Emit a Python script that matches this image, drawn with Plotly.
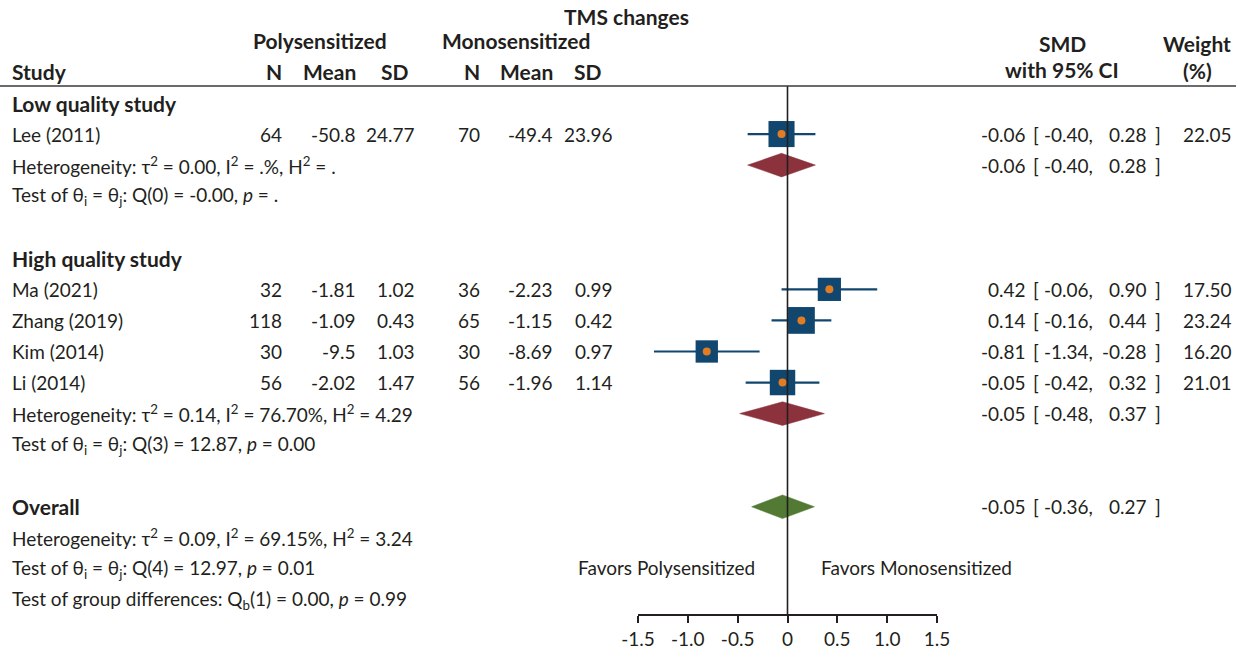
import plotly.graph_objects as go
import math

# ---- data -------------------------------------------------------------
studies = ["Lee (2011)", "Ma (2021)", "Zhang (2019)", "Kim (2014)", "Li (2014)"]
study_rows = [1, 6, 7, 8, 9]
n_poly = [64, 32, 118, 30, 56]
mean_poly = [-50.8, -1.81, -1.09, -9.5, -2.02]
sd_poly = [24.77, 1.02, 0.43, 1.03, 1.47]
n_mono = [70, 36, 65, 30, 56]
mean_mono = [-49.4, -2.23, -1.15, -8.69, -1.96]
sd_mono = [23.96, 0.99, 0.42, 0.97, 1.14]
smd = [-0.06, 0.42, 0.14, -0.81, -0.05]
ci_low = [-0.40, -0.06, -0.16, -1.34, -0.42]
ci_high = [0.28, 0.90, 0.44, -0.28, 0.32]
weight = [22.05, 17.50, 23.24, 16.20, 21.01]

# pooled estimates: low-quality subgroup, high-quality subgroup, overall
pooled_rows = [2, 10, 13]
pooled_smd = [-0.06, -0.05, -0.05]
pooled_low = [-0.40, -0.48, -0.36]
pooled_high = [0.28, 0.37, 0.27]
pooled_colors = ["#8c323c", "#8c323c", "#527a34"]

tick_vals = [-1.5, -1.0, -0.5, 0, 0.5, 1.0, 1.5]
tick_text = ["-1.5", "-1.0", "-0.5", "0", "0.5", "1.0", "1.5"]

# ---- layout helpers -----------------------------------------------------
W, H = 1244, 651
FONT = "Lato"
TXT = "#231f20"
FS = 19
FS_BOLD = 21
BLUE = "#11466f"
ORANGE = "#e27c22"

annotations = []


def txt(xpx, row, text, anchor="left", bold=False):
    size = FS
    if bold:
        text = "<b>" + text + "</b>"
        size = FS_BOLD
    annotations.append(dict(
        x=xpx / W, xref="paper", y=row, yref="y", text=text,
        xanchor=anchor, yanchor="middle", showarrow=False, borderpad=0,
        font=dict(family=FONT, size=size, color=TXT),
    ))


fig = go.Figure()

# confidence-interval whiskers
for i in range(len(studies)):
    fig.add_trace(go.Scatter(
        x=[ci_low[i], ci_high[i]], y=[study_rows[i], study_rows[i]],
        mode="lines", line=dict(color=BLUE, width=2.2),
        hoverinfo="skip", showlegend=False,
    ))

# weighted squares
fig.add_trace(go.Scatter(
    x=smd, y=study_rows, mode="markers",
    marker=dict(symbol="square", color=BLUE, opacity=1,
                size=[5.55 * math.sqrt(w) for w in weight], line=dict(width=0)),
    showlegend=False, hoverinfo="skip",
))
# point estimates
fig.add_trace(go.Scatter(
    x=smd, y=study_rows, mode="markers",
    marker=dict(symbol="circle", color=ORANGE, size=8, opacity=1, line=dict(width=0)),
    showlegend=False, hoverinfo="skip",
))

# pooled diamonds
half_h = 0.38
for r, es, lo, hi, col in zip(pooled_rows, pooled_smd, pooled_low, pooled_high, pooled_colors):
    fig.add_trace(go.Scatter(
        x=[lo, es, hi, es, lo], y=[r, r - half_h, r, r + half_h, r],
        mode="lines", fill="toself", fillcolor=col,
        line=dict(color=col, width=0.5), showlegend=False, hoverinfo="skip",
    ))

# ---- table text ---------------------------------------------------------
X_STUDY = 11
X_N1, X_M1, X_S1 = 283, 357, 416
X_N2, X_M2, X_S2 = 481, 554, 614
X_ES, X_LB, X_LO, X_HI, X_RB, X_W = 1027, 1032, 1094, 1148, 1154, 1233

txt(626, -2.80, "TMS changes", "center", True)
txt(320, -2.0, "Polysensitized", "center", True)
txt(516, -2.0, "Monosensitized", "center", True)
txt(1062, -1.93, "SMD", "center", True)
txt(1197, -1.93, "Weight", "center", True)
txt(X_STUDY, -1.03, "Study", "left", True)
for xp, lab in [(X_N1, "N"), (X_M1, "Mean"), (410, "SD"),
                (X_N2, "N"), (X_M2, "Mean"), (603, "SD")]:
    txt(xp, -1.03, lab, "right", True)
txt(1062, -1.09, "with 95% CI", "center", True)
txt(1197, -1.06, "(%)", "center", True)

txt(X_STUDY, 0, "Low quality study", "left", True)
txt(X_STUDY, 5, "High quality study", "left", True)
txt(X_STUDY, 13, "Overall", "left", True)


def ci_text(row, es, lo, hi, w=None):
    txt(X_ES, row, f"{es:.2f}", "right")
    txt(X_LB, row, "[", "left")
    txt(X_LO, row, f"{lo:.2f},", "right")
    txt(X_HI, row, f"{hi:.2f}", "right")
    txt(X_RB, row, "]", "left")
    if w is not None:
        txt(X_W, row, f"{w:.2f}", "right")


for i, name in enumerate(studies):
    r = study_rows[i]
    txt(X_STUDY, r, name, "left")
    txt(X_N1, r, str(n_poly[i]), "right")
    txt(X_M1, r, f"{mean_poly[i]:g}", "right")
    txt(X_S1, r, f"{sd_poly[i]:.2f}", "right")
    txt(X_N2, r, str(n_mono[i]), "right")
    txt(X_M2, r, f"{mean_mono[i]:g}", "right")
    txt(X_S2, r, f"{sd_mono[i]:.2f}", "right")
    ci_text(r, smd[i], ci_low[i], ci_high[i], weight[i])

for r, es, lo, hi in zip(pooled_rows, pooled_smd, pooled_low, pooled_high):
    ci_text(r, es, lo, hi)

TEST = "Test of θ<sub>i</sub> = θ<sub>j</sub>: "
txt(X_STUDY, 2, "Heterogeneity: τ<sup>2</sup> = 0.00, I<sup>2</sup> = .%, H<sup>2</sup> = .")
txt(X_STUDY, 3, TEST + "Q(0) = -0.00, <i>p</i> = .")
txt(X_STUDY, 10, "Heterogeneity: τ<sup>2</sup> = 0.14, I<sup>2</sup> = 76.70%, H<sup>2</sup> = 4.29")
txt(X_STUDY, 11, TEST + "Q(3) = 12.87, <i>p</i> = 0.00")
txt(X_STUDY, 14, "Heterogeneity: τ<sup>2</sup> = 0.09, I<sup>2</sup> = 69.15%, H<sup>2</sup> = 3.24")
txt(X_STUDY, 15, TEST + "Q(4) = 12.97, <i>p</i> = 0.01")
txt(X_STUDY, 16, "Test of group differences: Q<sub>b</sub>(1) = 0.00, <i>p</i> = 0.99")

txt(666, 14.94, "Favors Polysensitized", "center")
txt(916, 14.94, "Favors Monosensitized", "center")

# ---- axes / frame -------------------------------------------------------
ROW0_PX, ROW_STEP = 103, 31.06
PLOT_BOTTOM_PX = 614
y_top = -ROW0_PX / ROW_STEP
y_bottom = (PLOT_BOTTOM_PX - ROW0_PX) / ROW_STEP
header_line_y = (86 - ROW0_PX) / ROW_STEP

shapes = [
    dict(type="line", xref="x", yref="y", x0=0, x1=0, y0=header_line_y, y1=y_bottom,
         line=dict(color="#231f20", width=1.6)),
    dict(type="line", xref="paper", yref="y", x0=0, x1=1236 / W,
         y0=header_line_y, y1=header_line_y, line=dict(color="#3a3a3a", width=1.4)),
]

fig.update_layout(
    width=W, height=H,
    margin=dict(l=0, r=0, t=0, b=H - PLOT_BOTTOM_PX, pad=0, autoexpand=False),
    paper_bgcolor="white", plot_bgcolor="white",
    annotations=annotations, shapes=shapes,
    xaxis=dict(domain=[638 / W, 937 / W], range=[-1.5, 1.5],
               showgrid=False, zeroline=False, showline=True,
               linecolor="#231f20", linewidth=1.6,
               ticks="outside", ticklen=7, tickwidth=1.6, tickcolor="#231f20",
               tickvals=tick_vals, ticktext=tick_text,
               tickfont=dict(family=FONT, size=FS, color=TXT)),
    yaxis=dict(range=[y_bottom, y_top], visible=False, showgrid=False, zeroline=False),
    showlegend=False,
)

fig.write_html("out.html")
